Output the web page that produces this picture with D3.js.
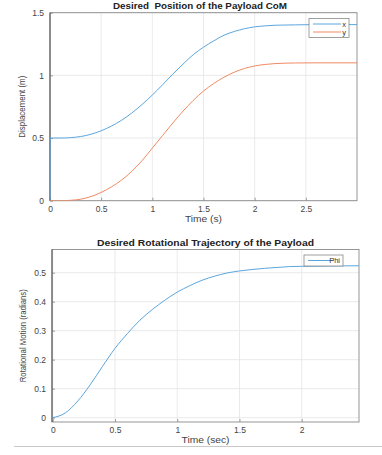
<!DOCTYPE html>
<html>
<head>
<meta charset="utf-8">
<script src="https://cdn.jsdelivr.net/npm/d3@7"></script>
<style>
  body { margin: 0; background: #fff; }
  svg { display: block; font-family: "Liberation Sans", Arial, sans-serif; }
  .tick text { font-size: 8.5px; fill: #444; }
  .ttl { font-size: 9px; font-weight: bold; fill: #222; white-space: pre; }
  .lab { font-size: 9px; fill: #444; }
</style>
</head>
<body>
<div id="chart"></div>
<script>
// top chart: desired position of the payload CoM
const timeTop = [0, 0, 0.1, 0.2, 0.3, 0.4, 0.5, 0.6, 0.7, 0.8, 0.9, 1.0, 1.1, 1.2, 1.3, 1.4, 1.5,
                 1.6, 1.7, 1.8, 1.9, 2.0, 2.1, 2.2, 2.4, 2.6, 3.0];
const posX = [0, 0.50, 0.500, 0.503, 0.512, 0.530, 0.558, 0.595, 0.642, 0.700, 0.768, 0.843, 0.925, 1.010,
              1.090, 1.165, 1.225, 1.275, 1.320, 1.350, 1.372, 1.387, 1.395, 1.400, 1.403, 1.405, 1.405];
const posY = [0, 0, 0.000, 0.003, 0.012, 0.033, 0.066, 0.110, 0.165, 0.235, 0.320, 0.420, 0.520, 0.620,
              0.715, 0.800, 0.875, 0.935, 0.985, 1.025, 1.055, 1.075, 1.087, 1.094, 1.099, 1.100, 1.100];
const topXTicks = [0, 0.5, 1, 1.5, 2, 2.5];
const topYTicks = [0, 0.5, 1, 1.5];

// bottom chart: rotational trajectory
const timeBot = [0, 0.1, 0.2, 0.3, 0.4, 0.5, 0.6, 0.7, 0.8, 0.9, 1.0, 1.1, 1.2, 1.3, 1.4, 1.5,
                 1.6, 1.7, 1.8, 1.9, 2.0, 2.2, 2.46];
const phi = [0, 0.016, 0.057, 0.113, 0.177, 0.239, 0.290, 0.336, 0.373, 0.405, 0.433, 0.455, 0.474,
             0.488, 0.499, 0.506, 0.511, 0.515, 0.518, 0.521, 0.522, 0.523, 0.524];
const botXTicks = [0, 0.5, 1, 1.5, 2];
const botYTicks = [0, 0.1, 0.2, 0.3, 0.4, 0.5];

const blue = "#5ba6dd";
const orange = "#ee8a62";

const svg = d3.select("#chart").append("svg")
    .attr("width", 382)
    .attr("height", 455);

function drawPanel(opt) {
    const x = d3.scaleLinear().domain(opt.xDomain).range([opt.left, opt.right]);
    const y = d3.scaleLinear().domain(opt.yDomain).range([opt.bottom, opt.top]);
    const g = svg.append("g");

    // grid
    g.selectAll(".gx").data(opt.xTicks).enter().append("line")
        .attr("x1", d => x(d)).attr("x2", d => x(d))
        .attr("y1", opt.top).attr("y2", opt.bottom)
        .attr("stroke", "#e4e4e4").attr("stroke-width", 0.8);
    g.selectAll(".gy").data(opt.yTicks).enter().append("line")
        .attr("y1", d => y(d)).attr("y2", d => y(d))
        .attr("x1", opt.left).attr("x2", opt.right)
        .attr("stroke", "#e4e4e4").attr("stroke-width", 0.8);

    // axes
    const xAxis = g.append("g")
        .attr("transform", `translate(0,${opt.bottom})`)
        .call(d3.axisBottom(x).tickValues(opt.xTicks).tickSizeInner(-3).tickSizeOuter(0).tickPadding(5)
            .tickFormat(d3.format("")));
    const yAxis = g.append("g")
        .attr("transform", `translate(${opt.left},0)`)
        .call(d3.axisLeft(y).tickValues(opt.yTicks).tickSizeInner(-3).tickSizeOuter(0).tickPadding(6)
            .tickFormat(d3.format("")));
    [xAxis, yAxis].forEach(a => {
        a.select(".domain").remove();
        a.selectAll(".tick line").attr("stroke", "#777").attr("stroke-width", 0.7);
    });

    // frame
    g.append("rect")
        .attr("x", opt.left).attr("y", opt.top)
        .attr("width", opt.right - opt.left).attr("height", opt.bottom - opt.top)
        .attr("fill", "none").attr("stroke", "#8a8a8a").attr("stroke-width", 0.9);
    g.append("line")
        .attr("x1", opt.left).attr("x2", opt.left).attr("y1", opt.top).attr("y2", opt.bottom)
        .attr("stroke", "#555").attr("stroke-width", 1);

    // series
    const clip = "clip" + opt.id;
    svg.append("clipPath").attr("id", clip).append("rect")
        .attr("x", opt.left).attr("y", opt.top)
        .attr("width", opt.right - opt.left).attr("height", opt.bottom - opt.top);
    opt.series.forEach(s => {
        const pts = s.values.map((v, i) => [opt.time[i], v]);
        g.append("path")
            .datum(pts)
            .attr("clip-path", `url(#${clip})`)
            .attr("fill", "none")
            .attr("stroke", s.color)
            .attr("stroke-width", 1)
            .attr("d", d3.line().x(d => x(d[0])).y(d => y(d[1])).curve(d3.curveMonotoneX));
    });

    // titles, stretched to the widths seen in the reference
    g.append("text").attr("class", "ttl")
        .attr("x", opt.titleX).attr("y", opt.top - 4)
        .attr("text-anchor", "middle")
        .attr("textLength", opt.titleW).attr("lengthAdjust", "spacingAndGlyphs")
        .text(opt.title);
    g.append("text").attr("class", "lab")
        .attr("x", (opt.left + opt.right) / 2).attr("y", opt.xLabelY)
        .attr("text-anchor", "middle")
        .attr("textLength", opt.xLabelW).attr("lengthAdjust", "spacingAndGlyphs")
        .text(opt.xLabel);
    g.append("text").attr("class", "lab")
        .attr("transform", `translate(${opt.yLabelX},${(opt.top + opt.bottom) / 2}) rotate(-90)`)
        .attr("text-anchor", "middle")
        .attr("textLength", opt.yLabelW).attr("lengthAdjust", "spacingAndGlyphs")
        .text(opt.yLabel);

    // legend
    const lg = opt.legend;
    const rowH = 8;
    g.append("rect")
        .attr("x", lg.x).attr("y", lg.y)
        .attr("width", lg.w).attr("height", opt.series.length * rowH + 3)
        .attr("fill", "#fff").attr("stroke", "#888").attr("stroke-width", 0.8);
    opt.series.forEach((s, i) => {
        const cy = lg.y + 5.5 + i * rowH;
        g.append("line")
            .attr("x1", lg.x + 4).attr("x2", lg.x + lg.lineW)
            .attr("y1", cy).attr("y2", cy)
            .attr("stroke", s.color).attr("stroke-width", 1);
        g.append("text")
            .attr("x", lg.x + lg.w - 3).attr("y", cy + 2.5)
            .attr("text-anchor", "end")
            .style("font-size", "7.5px").attr("fill", "#333")
            .text(s.name);
    });
}

drawPanel({
    id: "top",
    left: 50, right: 357, top: 12.7, bottom: 200.7,
    xDomain: [0, 3], yDomain: [0, 1.5],
    xTicks: topXTicks, yTicks: topYTicks,
    time: timeTop,
    series: [{ name: "x", values: posX, color: blue }, { name: "y", values: posY, color: orange }],
    title: "Desired  Position of the Payload CoM", titleX: 200, titleW: 174,
    xLabel: "Time (s)", xLabelY: 222, xLabelW: 37,
    yLabel: "Displacement (m)", yLabelX: 25, yLabelW: 62,
    legend: { x: 309, y: 18.5, w: 40, lineW: 32 }
});

drawPanel({
    id: "bot",
    left: 52, right: 359, top: 249.5, bottom: 422,
    xDomain: [-0.006, 2.46], yDomain: [-0.015, 0.58],
    xTicks: botXTicks, yTicks: botYTicks,
    time: timeBot,
    series: [{ name: "Phi", values: phi, color: blue }],
    title: "Desired Rotational Trajectory of the Payload", titleX: 205.5, titleW: 217,
    xLabel: "Time (sec)", xLabelY: 443, xLabelW: 48,
    yLabel: "Rotational Motion (radians)", yLabelX: 26, yLabelW: 93,
    legend: { x: 304, y: 255, w: 39, lineW: 30 }
});

// thin separator line under the lower chart
svg.append("line")
    .attr("x1", 14).attr("x2", 382).attr("y1", 446.5).attr("y2", 446.5)
    .attr("stroke", "#bbb").attr("stroke-width", 0.8);
</script>
</body>
</html>
